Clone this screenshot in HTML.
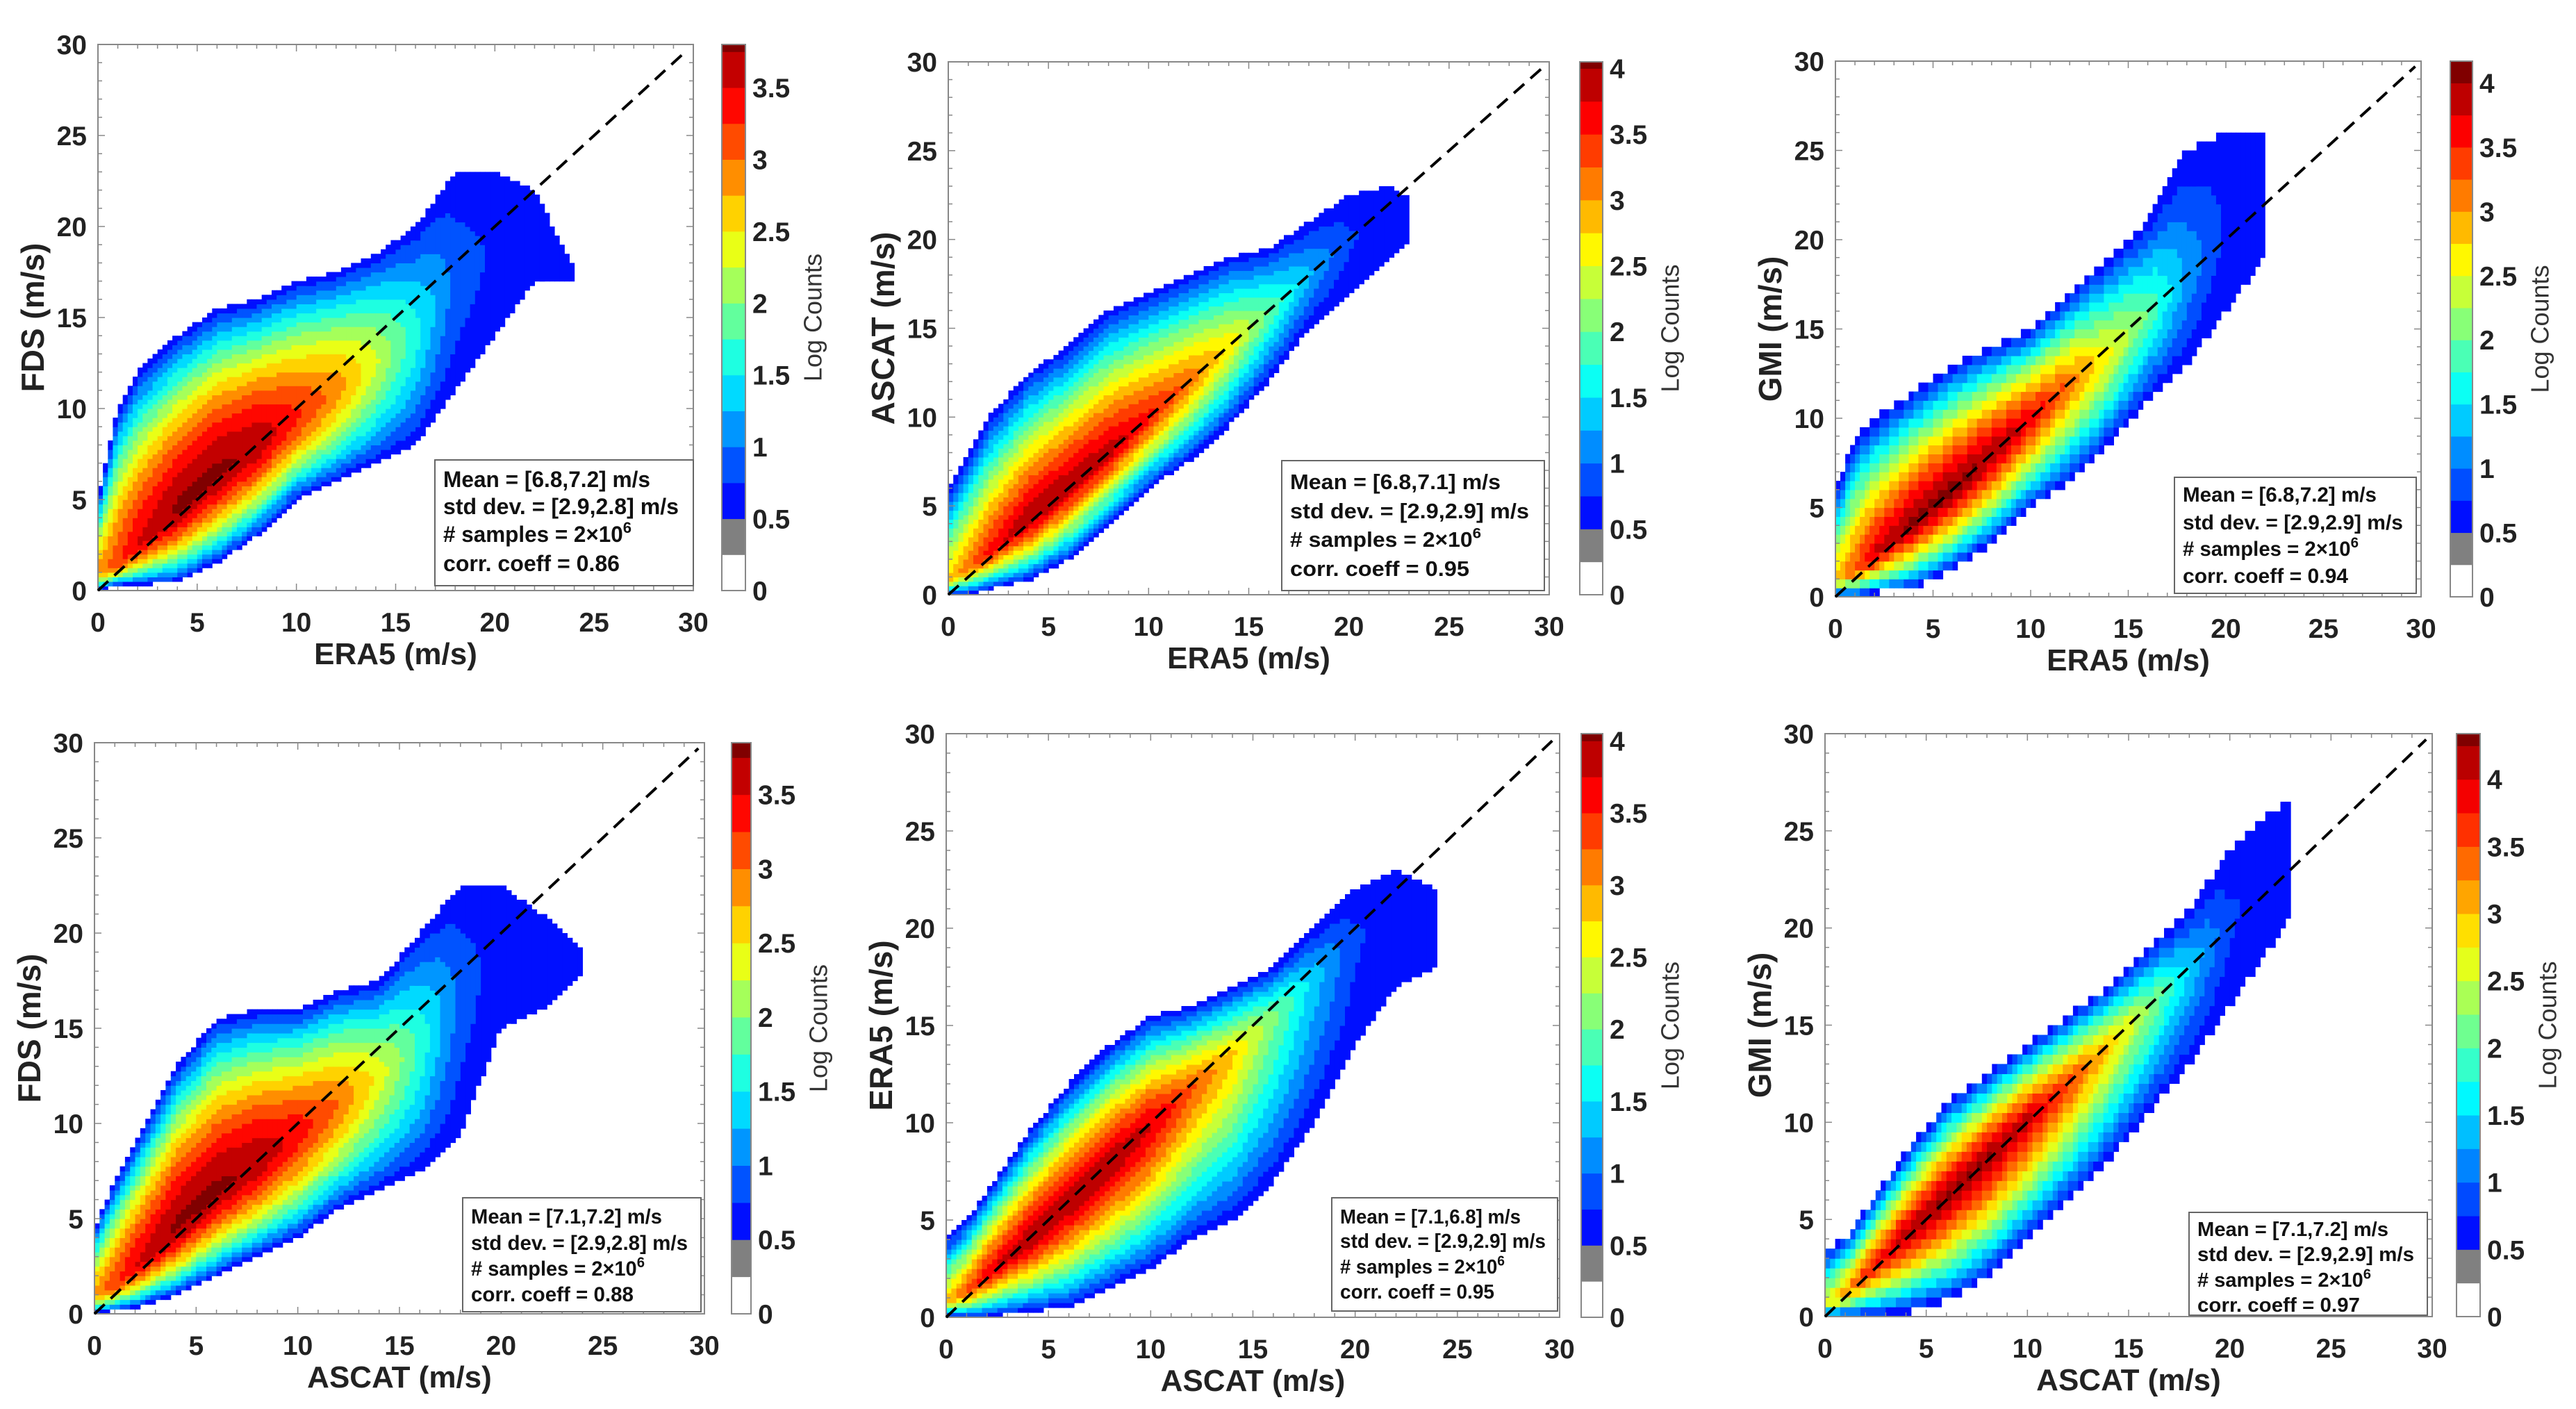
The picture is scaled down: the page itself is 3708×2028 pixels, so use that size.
<!DOCTYPE html>
<html><head><meta charset="utf-8">
<style>
html,body{margin:0;padding:0;background:#fff;}
svg{display:block;font-family:"Liberation Sans",Arial,sans-serif;}
</style></head>
<body>
<svg id="fig" xmlns="http://www.w3.org/2000/svg" width="3708" height="2028" viewBox="0 0 3708 2028"></svg>
<script>
// ===== DATA =====
// Panel 1: FDS vs ERA5
const p1Xs     = [0,1,2,4,6,8,10,12,14,16,18,20,22,24];
const p1Center = [1,1.5,2.5,4.5,6.5,8,9.5,11,12.5,14,17,19,20,17.3];
const p1Upper  = [5,10,12,14,15.5,16,17,17.5,18.5,20,23,23,22,17.6];
const p1Lower  = [0,0.3,0.3,0.5,1.5,3,5,6,7,8,11,14,17,17];
const p1Peak   = [2.8,3.2,3.5,3.8,3.8,3.7,3.3,2.9,2.3,1.6,0.9,0.7,0.6,0.55];
// Panel 2: ASCAT vs ERA5
const p2Xs     = [0,1,2,4,6,8,10,12,14,16,18,20,22,23];
const p2Center = [0.8,1.5,2.3,4.2,6.1,8,10,12,14,16,18,20,21.5,22];
const p2Upper  = [6,8,10,12.5,14,16,17,18,19,19.5,21,22.5,23,22.3];
const p2Lower  = [0,0,0.3,0.8,2,4,6,7.5,9.5,12,15,17,19,20];
const p2Peak   = [2.8,3.2,3.6,4.0,4.0,3.9,3.6,3.2,2.7,2.0,1.3,0.8,0.6,0.55];
// Panel 3: GMI vs ERA5
const p3Xs     = [0,1,2,4,6,8,10,12,14,16,18,20,22];
const p3Center = [1,1.5,2.3,4.2,6,8,10,12,13.5,16,18,21,23];
const p3Upper  = [6,9,10,11.5,13,14,15,17,19,21,25,26,26];
const p3Lower  = [0,0,0.2,0.5,1.5,3,5,6.5,8.5,11,13,16,19];
const p3Peak   = [2.8,3.3,3.8,4.1,4.1,4.0,3.7,3.2,2.6,2.0,1.2,0.7,0.55];
// Panel 4: FDS vs ASCAT
const p4Xs     = [0,1,2,4,6,8,10,12,14,16,18,20,22,24];
const p4Center = [1,1.5,2.5,4.5,6.5,8,9.5,11,12.5,14,17,19,19,18.5];
const p4Upper  = [4.5,7,9,13,15.5,16,16,17,17.5,20,22.5,22.5,21,19];
const p4Lower  = [0,0.2,0.3,1,2,3,4,5.5,6.5,7.5,9.5,15,16,18];
const p4Peak   = [2.8,3.2,3.5,3.8,3.8,3.7,3.4,3.0,2.4,1.7,0.9,0.6,0.55,0.5];
// Panel 5: ERA5 vs ASCAT
const p5Xs     = [0,1,2,4,6,8,10,12,14,16,18,20,22,24];
const p5Center = [0.8,1.3,2.2,3.9,5.9,7.9,9.9,11.8,13.5,15.5,17.5,19.5,21,20];
const p5Upper  = [4,5,6.5,9.5,12,14,15.5,16,17,18,20,22,23,22];
const p5Lower  = [0,0,0,0.3,0.5,1.5,2.5,4,5,7,10,14,17,18];
const p5Peak   = [2.8,3.3,3.7,4.0,4.0,4.0,3.8,3.3,2.8,2.1,1.4,0.8,0.6,0.5];
// Panel 6: GMI vs ASCAT
const p6Xs     = [0,1,2,4,6,8,10,12,14,16,18,20,22,23];
const p6Center = [0.6,1.2,2.2,4.2,6.2,8.2,10.2,12,14,16,18,20.5,23,24.5];
const p6Upper  = [3.5,4,5.5,8.5,11,12.5,14,15.5,17,19,21,24,26,26.5];
const p6Lower  = [0,0,0,0.2,0.8,2,4,6,8,10.5,13,16,19,21];
const p6Peak   = [2.6,3.2,3.7,4.2,4.3,4.3,4.1,3.6,3.0,2.3,1.5,0.8,0.6,0.55];

const axisTicks = [0,5,10,15,20,25,30];
const cbMax = [3.8,4.05,4.17,3.85,4.05,4.34];
const cbTicks1 = [0,0.5,1,1.5,2,2.5,3,3.5];
const cbTicks2 = [0,0.5,1,1.5,2,2.5,3,3.5,4];
const statMeans = ["[6.8,7.2]","[6.8,7.1]","[6.8,7.2]","[7.1,7.2]","[7.1,6.8]","[7.1,7.2]"];
const statStds  = ["[2.9,2.8]","[2.9,2.9]","[2.9,2.9]","[2.9,2.8]","[2.9,2.9]","[2.9,2.9]"];
const statCorr  = ["0.86","0.95","0.94","0.88","0.95","0.97"];
const xTitles = ["ERA5 (m/s)","ERA5 (m/s)","ERA5 (m/s)","ASCAT (m/s)","ASCAT (m/s)","ASCAT (m/s)"];
const yTitles = ["FDS (m/s)","ASCAT (m/s)","GMI (m/s)","FDS (m/s)","ERA5 (m/s)","GMI (m/s)"];

// ===== layout (pixel geometry, not data) =====
const layout = [
 {L:141,R:998,T:64,B:850, cbL:1039,cbR:1073, box:[626,662,998,843], lines:[701,740,780,822], fs:32, ybin:0.25},
 {L:1365,R:2230,T:89,B:856, cbL:2274,cbR:2307, box:[1845,663,2223,850], lines:[704,746,787,829], fs:31, ybin:0.25},
 {L:2642,R:3485,T:88,B:859, cbL:3527,cbR:3559, box:[3130,687,3478,854], lines:[722,762,800,839], fs:30, ybin:0.5},
 {L:136,R:1014,T:1069,B:1891, cbL:1053,cbR:1081, box:[666,1724,1009,1888], lines:[1761,1799,1836,1873], fs:30, ybin:0.25},
 {L:1362,R:2245,T:1056,B:1896, cbL:2276,cbR:2307, box:[1917,1724,2242,1887], lines:[1761,1796,1833,1869], fs:29, ybin:0.25},
 {L:2627,R:3501,T:1056,B:1895, cbL:3536,cbR:3570, box:[3151,1745,3494,1893], lines:[1779,1815,1852,1888], fs:29, ybin:0.5}
];
const series = [
 [p1Xs,p1Center,p1Upper,p1Lower,p1Peak],
 [p2Xs,p2Center,p2Upper,p2Lower,p2Peak],
 [p3Xs,p3Center,p3Upper,p3Lower,p3Peak],
 [p4Xs,p4Center,p4Upper,p4Lower,p4Peak],
 [p5Xs,p5Center,p5Upper,p5Lower,p5Peak],
 [p6Xs,p6Center,p6Upper,p6Lower,p6Peak]
];
const profileExp = [1.5,1.2,1.25,1.5,1.25,1.2];

const NS="http://www.w3.org/2000/svg";
const fig=document.getElementById('fig');
function mk(tag,attrs,parent){const e=document.createElementNS(NS,tag);for(const k in attrs)e.setAttribute(k,attrs[k]);(parent||fig).appendChild(e);return e;}

function jet(t){
  t=Math.max(0,Math.min(1,t));
  const f=v=>Math.round(255*Math.max(0,Math.min(1,v)));
  return `rgb(${f(1.5-Math.abs(4*t-3))},${f(1.5-Math.abs(4*t-2))},${f(1.5-Math.abs(4*t-1))})`;
}
function levelColor(v,max){
  if(v<0.25) return null;
  if(v<0.5) return '#808080';
  const lev=Math.floor(v/0.25)*0.25;
  const nb=Math.ceil((max-0.5)/0.25);
  const t=(lev-0.5)/0.25/Math.max(1,nb-1);
  return jet(0.14+0.86*t);
}
function interp(xs,arr,x){
  if(x<xs[0]||x>xs[xs.length-1]) return null;
  for(let i=0;i<xs.length-1;i++){ if(x<=xs[i+1]){const t=(x-xs[i])/(xs[i+1]-xs[i]);return arr[i]+t*(arr[i+1]-arr[i]);} }
  return arr[arr.length-1];
}

layout.forEach((g,pi)=>{
  const panel=mk('g',{});
  
  
  const sx=v=>g.L+(g.R-g.L)*v/30;
  const sy=v=>g.B-(g.B-g.T)*v/30;
  const max=cbMax[pi];
  const ex=profileExp[pi];
  const [xs,cen,up,lo,pk]=series[pi];
  const hm=mk('g',{},panel);
  
  
  const xb=0.25, yb=g.ybin;
  for(let x0=0;x0<30;x0+=xb){
    const xc=x0+xb/2;
    const c=interp(xs,cen,xc); if(c===null) continue;
    const u=interp(xs,up,xc), l=interp(xs,lo,xc), p=interp(xs,pk,xc);
    const edge=Math.min(0.55,p);
    let runStart=null, runColor=null;
    const flush=(yEnd)=>{
      if(runColor){
        const r=mk('rect',{x:sx(x0).toFixed(1),y:sy(yEnd).toFixed(1),width:(sx(x0+xb)-sx(x0)+0.6).toFixed(1),height:(sy(runStart)-sy(yEnd)+0.6).toFixed(1),fill:runColor},hm);
        
        
      }
    };
    for(let y0=0;y0<30;y0+=yb){
      const yc=y0+yb/2;
      let v=0;
      const w=(yc>=c)?Math.max(0.3,u-c):Math.max(0.3,c-l);
      const d=Math.abs(yc-c)/w;
      if(d<=1) v=p-(p-edge)*Math.pow(d,ex);
      const col=levelColor(v,max);
      if(col!==runColor){ flush(y0); runStart=y0; runColor=col; }
    }
    flush(30);
  }
  const box=mk('rect',{x:g.L,y:g.T,width:g.R-g.L,height:g.B-g.T,fill:'none',stroke:'#888','stroke-width':2},panel);
  
  
  for(let v=0;v<=30;v+=1){
    const len=(v%5===0)?10:6;
    mk('line',{x1:sx(v),x2:sx(v),y1:g.B,y2:g.B-len,stroke:'#888','stroke-width':1.5},panel);
    mk('line',{x1:sx(v),x2:sx(v),y1:g.T,y2:g.T+len,stroke:'#888','stroke-width':1.5},panel);
    mk('line',{x1:g.L,x2:g.L+len,y1:sy(v),y2:sy(v),stroke:'#888','stroke-width':1.5},panel);
    mk('line',{x1:g.R,x2:g.R-len,y1:sy(v),y2:sy(v),stroke:'#888','stroke-width':1.5},panel);
  }
  const dl=mk('line',{x1:sx(0),y1:sy(0),x2:sx(29.7),y2:sy(29.7),stroke:'#000','stroke-width':4,'stroke-dasharray':'20 12'},panel);
  
  
  axisTicks.forEach(t=>{
    const a=mk('text',{x:sx(t),y:g.B+59,'text-anchor':'middle','font-size':39,'font-weight':'bold',fill:'#222'},panel);
    a.textContent=t;
    
    
    const b=mk('text',{x:g.L-16,y:sy(t)+14,'text-anchor':'end','font-size':39,'font-weight':'bold',fill:'#222'},panel);
    b.textContent=t;
    
    
  });
  const xt=mk('text',{x:(g.L+g.R)/2,y:g.B+106,'text-anchor':'middle','font-size':44,'font-weight':'bold',fill:'#222'},panel);
  xt.textContent=xTitles[pi];
  
  
  const yx=g.L-94, yy=(g.T+g.B)/2;
  const yt=mk('text',{x:yx,y:yy,'text-anchor':'middle','dominant-baseline':'central','font-size':46,'font-weight':'bold',fill:'#222',transform:`rotate(-90 ${yx} ${yy})`},panel);
  yt.textContent=yTitles[pi];
  
  
  const [bx0,by0,bx1,by1]=g.box;
  const sb=mk('rect',{x:bx0,y:by0,width:bx1-bx0,height:by1-by0,fill:'#fff',stroke:'#666','stroke-width':2},panel);
  
  
  const bw=(bx1-bx0)*0.91, tx=bx0+12;
  const lineTexts=[`Mean = ${statMeans[pi]} m/s`,`std dev. = ${statStds[pi]} m/s`,null,`corr. coeff = ${statCorr[pi]}`];
  const ratios=[0.88,1,0.8,0.75];
  lineTexts.forEach((s,i)=>{
    const t=mk('text',{x:tx,y:g.lines[i],'font-size':g.fs,'font-weight':'bold',fill:'#111',textLength:(bw*ratios[i]).toFixed(0),lengthAdjust:'spacingAndGlyphs'},panel);
    if(s!==null){ t.textContent=s; }
    else {
      t.textContent='# samples = 2\u00d710';
      const sp=mk('tspan',{dy:-g.fs*0.4,'font-size':g.fs*0.7},t);
      sp.textContent='6';
    }
    
    
  });
  const cb=mk('g',{},panel);
  
  
  const cy=v=>g.B-(g.B-g.T)*v/max;
  for(let lev=0;lev<max;lev+=0.25){
    const top=Math.min(max,lev+0.25);
    const col=levelColor(lev+0.001,max)||'#fff';
    const r=mk('rect',{x:g.cbL,y:cy(top),width:g.cbR-g.cbL,height:cy(lev)-cy(top)+0.5,fill:col},cb);
    
    
  }
  mk('rect',{x:g.cbL,y:g.T,width:g.cbR-g.cbL,height:g.B-g.T,fill:'none',stroke:'#888','stroke-width':2},cb);
  const ticks=max>=4?cbTicks2:cbTicks1;
  ticks.forEach(t=>{
    const l=mk('text',{x:g.cbR+10,y:cy(t)+14,'font-size':39,'font-weight':'bold',fill:'#222'},cb);
    l.textContent=t;
    
    
  });
  const lx=g.cbR+97, ly=(g.T+g.B)/2;
  const lc=mk('text',{x:lx,y:ly,'text-anchor':'middle','dominant-baseline':'central','font-size':36,fill:'#333',transform:`rotate(-90 ${lx} ${ly})`},cb);
  lc.textContent='Log Counts';
  
  
});
</script>
</body></html>
